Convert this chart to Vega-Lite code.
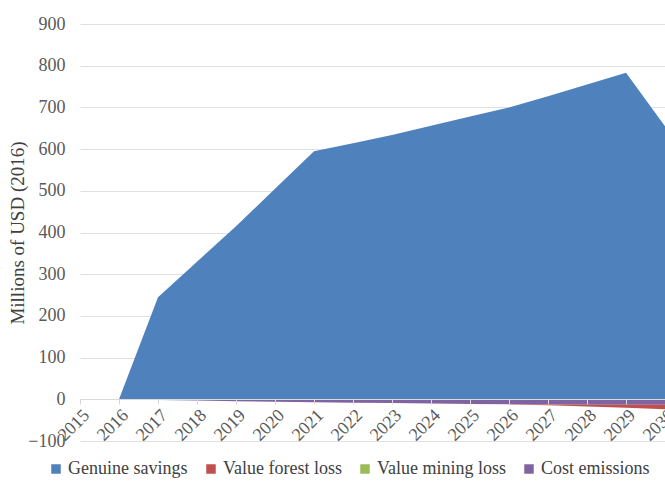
{
  "$schema": "https://vega.github.io/schema/vega-lite/v6.json",
  "width": 585,
  "height": 417,
  "autosize": {"type": "none"},
  "padding": {"left": 80, "top": 24, "right": 0, "bottom": 41},
  "background": "white",
  "config": {
    "view": {"stroke": null},
    "font": "Times New Roman, Liberation Serif, serif"
  },
  "data": {
    "values": [
      {"year": "2016", "series": "Genuine savings", "ord": 0, "value": 0},
      {"year": "2017", "series": "Genuine savings", "ord": 0, "value": 245},
      {"year": "2018", "series": "Genuine savings", "ord": 0, "value": 330},
      {"year": "2019", "series": "Genuine savings", "ord": 0, "value": 415},
      {"year": "2020", "series": "Genuine savings", "ord": 0, "value": 505},
      {"year": "2021", "series": "Genuine savings", "ord": 0, "value": 595},
      {"year": "2022", "series": "Genuine savings", "ord": 0, "value": 614},
      {"year": "2023", "series": "Genuine savings", "ord": 0, "value": 634},
      {"year": "2024", "series": "Genuine savings", "ord": 0, "value": 656},
      {"year": "2025", "series": "Genuine savings", "ord": 0, "value": 678},
      {"year": "2026", "series": "Genuine savings", "ord": 0, "value": 700},
      {"year": "2027", "series": "Genuine savings", "ord": 0, "value": 727},
      {"year": "2028", "series": "Genuine savings", "ord": 0, "value": 755},
      {"year": "2029", "series": "Genuine savings", "ord": 0, "value": 783},
      {"year": "2030", "series": "Genuine savings", "ord": 0, "value": 655},
      {"year": "2016", "series": "Cost emissions", "ord": 1, "value": 0},
      {"year": "2017", "series": "Cost emissions", "ord": 1, "value": -1.5},
      {"year": "2018", "series": "Cost emissions", "ord": 1, "value": -3},
      {"year": "2019", "series": "Cost emissions", "ord": 1, "value": -4.5},
      {"year": "2020", "series": "Cost emissions", "ord": 1, "value": -6},
      {"year": "2021", "series": "Cost emissions", "ord": 1, "value": -7},
      {"year": "2022", "series": "Cost emissions", "ord": 1, "value": -8},
      {"year": "2023", "series": "Cost emissions", "ord": 1, "value": -9},
      {"year": "2024", "series": "Cost emissions", "ord": 1, "value": -10},
      {"year": "2025", "series": "Cost emissions", "ord": 1, "value": -11},
      {"year": "2026", "series": "Cost emissions", "ord": 1, "value": -12},
      {"year": "2027", "series": "Cost emissions", "ord": 1, "value": -12.5},
      {"year": "2028", "series": "Cost emissions", "ord": 1, "value": -13},
      {"year": "2029", "series": "Cost emissions", "ord": 1, "value": -13},
      {"year": "2030", "series": "Cost emissions", "ord": 1, "value": -13},
      {"year": "2016", "series": "Value forest loss", "ord": 2, "value": 0},
      {"year": "2017", "series": "Value forest loss", "ord": 2, "value": 0},
      {"year": "2018", "series": "Value forest loss", "ord": 2, "value": 0},
      {"year": "2019", "series": "Value forest loss", "ord": 2, "value": 0},
      {"year": "2020", "series": "Value forest loss", "ord": 2, "value": 0},
      {"year": "2021", "series": "Value forest loss", "ord": 2, "value": 0},
      {"year": "2022", "series": "Value forest loss", "ord": 2, "value": 0},
      {"year": "2023", "series": "Value forest loss", "ord": 2, "value": 0},
      {"year": "2024", "series": "Value forest loss", "ord": 2, "value": 0},
      {"year": "2025", "series": "Value forest loss", "ord": 2, "value": 0},
      {"year": "2026", "series": "Value forest loss", "ord": 2, "value": -0.5},
      {"year": "2027", "series": "Value forest loss", "ord": 2, "value": -2},
      {"year": "2028", "series": "Value forest loss", "ord": 2, "value": -4},
      {"year": "2029", "series": "Value forest loss", "ord": 2, "value": -7},
      {"year": "2030", "series": "Value forest loss", "ord": 2, "value": -11},
      {"year": "2016", "series": "Value mining loss", "ord": 3, "value": 0},
      {"year": "2017", "series": "Value mining loss", "ord": 3, "value": 0},
      {"year": "2018", "series": "Value mining loss", "ord": 3, "value": 0},
      {"year": "2019", "series": "Value mining loss", "ord": 3, "value": 0},
      {"year": "2020", "series": "Value mining loss", "ord": 3, "value": 0},
      {"year": "2021", "series": "Value mining loss", "ord": 3, "value": 0},
      {"year": "2022", "series": "Value mining loss", "ord": 3, "value": 0},
      {"year": "2023", "series": "Value mining loss", "ord": 3, "value": 0},
      {"year": "2024", "series": "Value mining loss", "ord": 3, "value": 0},
      {"year": "2025", "series": "Value mining loss", "ord": 3, "value": 0},
      {"year": "2026", "series": "Value mining loss", "ord": 3, "value": 0},
      {"year": "2027", "series": "Value mining loss", "ord": 3, "value": 0},
      {"year": "2028", "series": "Value mining loss", "ord": 3, "value": 0},
      {"year": "2029", "series": "Value mining loss", "ord": 3, "value": 0},
      {"year": "2030", "series": "Value mining loss", "ord": 3, "value": 0}
    ]
  },
  "mark": {"type": "area", "interpolate": "linear"},
  "encoding": {
    "x": {
      "field": "year",
      "type": "ordinal",
      "scale": {
        "type": "point",
        "padding": 0,
        "domain": ["2015","2016","2017","2018","2019","2020","2021","2022","2023","2024","2025","2026","2027","2028","2029","2030"]
      },
      "axis": {
        "title": null,
        "offset": -42,
        "labelAngle": -45,
        "labelAlign": "right",
        "labelBaseline": "top",
        "labelFont": "Times New Roman, Liberation Serif, serif",
        "labelFontSize": 18,
        "labelColor": "#595959",
        "labelPadding": 2,
        "domainColor": "#d9d9d9",
        "tickColor": "#d9d9d9",
        "tickSize": 5,
        "grid": false,
        "labelOverlap": false,
        "zindex": 1
      }
    },
    "y": {
      "field": "value",
      "type": "quantitative",
      "stack": "zero",
      "scale": {"domain": [-100, 900], "nice": false, "zero": false},
      "axis": {
        "title": "Millions of USD (2016)",
        "titleFont": "Times New Roman, Liberation Serif, serif",
        "titleFontSize": 19,
        "titleFontWeight": "normal",
        "titleColor": "#404040",
        "titlePadding": 0,
        "values": [-100, 0, 100, 200, 300, 400, 500, 600, 700, 800, 900],
        "labelFont": "Times New Roman, Liberation Serif, serif",
        "labelFontSize": 18,
        "labelColor": "#595959",
        "labelPadding": 15,
        "domain": false,
        "ticks": false,
        "grid": true,
        "gridColor": "#e0e0e0",
        "gridWidth": 1
      }
    },
    "color": {
      "field": "series",
      "type": "nominal",
      "scale": {
        "domain": ["Genuine savings", "Value forest loss", "Value mining loss", "Cost emissions"],
        "range": ["#4F81BD", "#C0504D", "#9BBB59", "#8064A2"]
      },
      "legend": {
        "title": null,
        "orient": "none",
        "direction": "horizontal",
        "legendX": -33,
        "legendY": 436,
        "symbolType": "square",
        "symbolSize": 90,
        "symbolStrokeWidth": 0,
        "labelFont": "Times New Roman, Liberation Serif, serif",
        "labelFontSize": 18,
        "labelColor": "#404040",
        "labelOffset": 3,
        "columnPadding": 14,
        "symbolOpacity": 1
      }
    },
    "order": {"field": "ord", "type": "quantitative"}
  }
}
